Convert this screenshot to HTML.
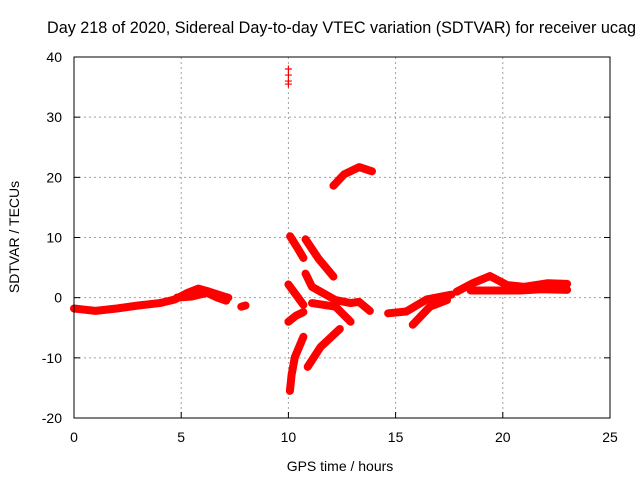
<!DOCTYPE html>
<html><head><meta charset="utf-8"><style>
body{margin:0;background:#fff}
svg{display:block;font-family:"Liberation Sans",sans-serif;font-size:14px}
</style></head><body>
<svg id="chart" width="640" height="480" xmlns="http://www.w3.org/2000/svg">
<text x="47" y="33" text-anchor="start" font-size="16.2">Day 218 of 2020, Sidereal Day-to-day VTEC variation (SDTVAR) for receiver ucag</text>
<text x="340" y="471" text-anchor="middle">GPS time / hours</text>
<text transform="translate(19,237) rotate(-90)" text-anchor="middle">SDTVAR / TECUs</text>
<g id="grid"></g>
<g id="ticks"></g>
<g id="marks"></g>
<rect x="74" y="57" width="536" height="361" fill="none" stroke="#000" stroke-width="1"/>
</svg>
<script>
const xTicks=[0,5,10,15,20,25];
const yTicks=[-20,-10,0,10,20,30,40];
const trackA=[[0,-1.8],[0.5,-2],[1,-2.2],[2,-1.8],[3,-1.3],[4,-0.9],[4.7,-0.3],[5.3,0.8],[5.8,1.5],[6.3,1],[6.9,0.3],[7.2,0]];
const trackA2=[[4.8,0],[5.5,0.2],[6.2,0.8],[6.7,0],[7.1,-0.5]];
const trackA3=[[7.8,-1.5],[8,-1.3]];
const spike=[[10,38],[10,37],[10,36],[10,35.5]];
const arcTop=[[12.1,18.6],[12.6,20.5],[13.3,21.7],[13.9,21]];
const trackB=[[10.08,10.2],[10.4,8.4],[10.7,6.6]];
const trackC=[[10.8,9.7],[11.4,6.5],[12.1,3.5]];
const trackD=[[10,2.2],[10.35,0.5],[10.7,-1.2]];
const trackE=[[10.8,4],[11.1,1.8],[11.6,0.8],[12.2,-0.4],[12.9,-0.9],[13.3,-0.7],[13.8,-2.2]];
const trackF=[[11.1,-0.9],[12.2,-1.5],[12.9,-4]];
const trackG=[[10,-4],[10.35,-3],[10.7,-2.4]];
const trackH=[[10.7,-6.5],[10.3,-9.9],[10.15,-12.8],[10.07,-15.5]];
const trackI=[[10.9,-11.5],[11.5,-8.2],[12.4,-5.2]];
const trackJ=[[14.65,-2.6],[15.5,-2.3],[16.45,-0.3],[17.6,0.5]];
const trackK=[[15.8,-4.5],[16.6,-1.5],[17.4,-0.4]];
const trackL=[[17.85,1],[18.6,2.4],[19.4,3.6],[20.2,2.1],[21,1.8],[22.1,2.4],[23,2.3]];
const trackM=[[18.5,1.2],[19.4,1.2],[20.8,1.2],[21.8,1.4],[23,1.3]];
const tracks=[trackA,trackA2,trackA3,spike,arcTop,trackB,trackC,trackD,trackE,trackF,trackG,trackH,trackI,trackJ,trackK,trackL,trackM];
const NS="http://www.w3.org/2000/svg";
const X=t=>74+t*536/25, Y=v=>418-(v+20)*361/60;
const grid=document.getElementById('grid'),ticks=document.getElementById('ticks'),marks=document.getElementById('marks');
function mk(tag,attrs,parent){const e=document.createElementNS(NS,tag);for(const k in attrs)e.setAttribute(k,attrs[k]);parent.appendChild(e);return e;}
xTicks.forEach(t=>{const x=X(t);
 if(t>0&&t<25){const l=mk('line',{x1:x,x2:x,y1:57,y2:418,stroke:'#a0a0a0','stroke-dasharray':'2,3'},grid);}
 const tk=mk('line',{x1:x,x2:x,y1:418,y2:412,stroke:'#000'},ticks);
 const tx=mk('text',{x:x,y:442,'text-anchor':'middle'},ticks);tx.textContent=t;});
yTicks.forEach(v=>{const y=Y(v);
 if(v>-20&&v<40){const l=mk('line',{x1:74,x2:610,y1:y,y2:y,stroke:'#a0a0a0','stroke-dasharray':'2,3'},grid);}
 const tk=mk('line',{x1:74,x2:80,y1:y,y2:y,stroke:'#000'},ticks);
 const tk2=mk('line',{x1:604,x2:610,y1:y,y2:y,stroke:'#000'},ticks);
 const tx=mk('text',{x:62,y:y+5,'text-anchor':'end'},ticks);tx.textContent=v;});
tracks.forEach(tr=>{
 if(tr!==spike){const pl=mk('polyline',{points:tr.map(p=>X(p[0])+','+Y(p[1])).join(' '),fill:'none',stroke:'#f00','stroke-width':8,'stroke-linejoin':'round','stroke-linecap':'round'},marks);
 }
 tr.forEach(p=>{const x=X(p[0]),y=Y(p[1]);
  const m=mk('path',{d:`M${x-3.5},${y}h7M${x},${y-3.5}v7`,stroke:'#f00','stroke-width':1.2},marks);
  });
});
</script>
</body></html>
